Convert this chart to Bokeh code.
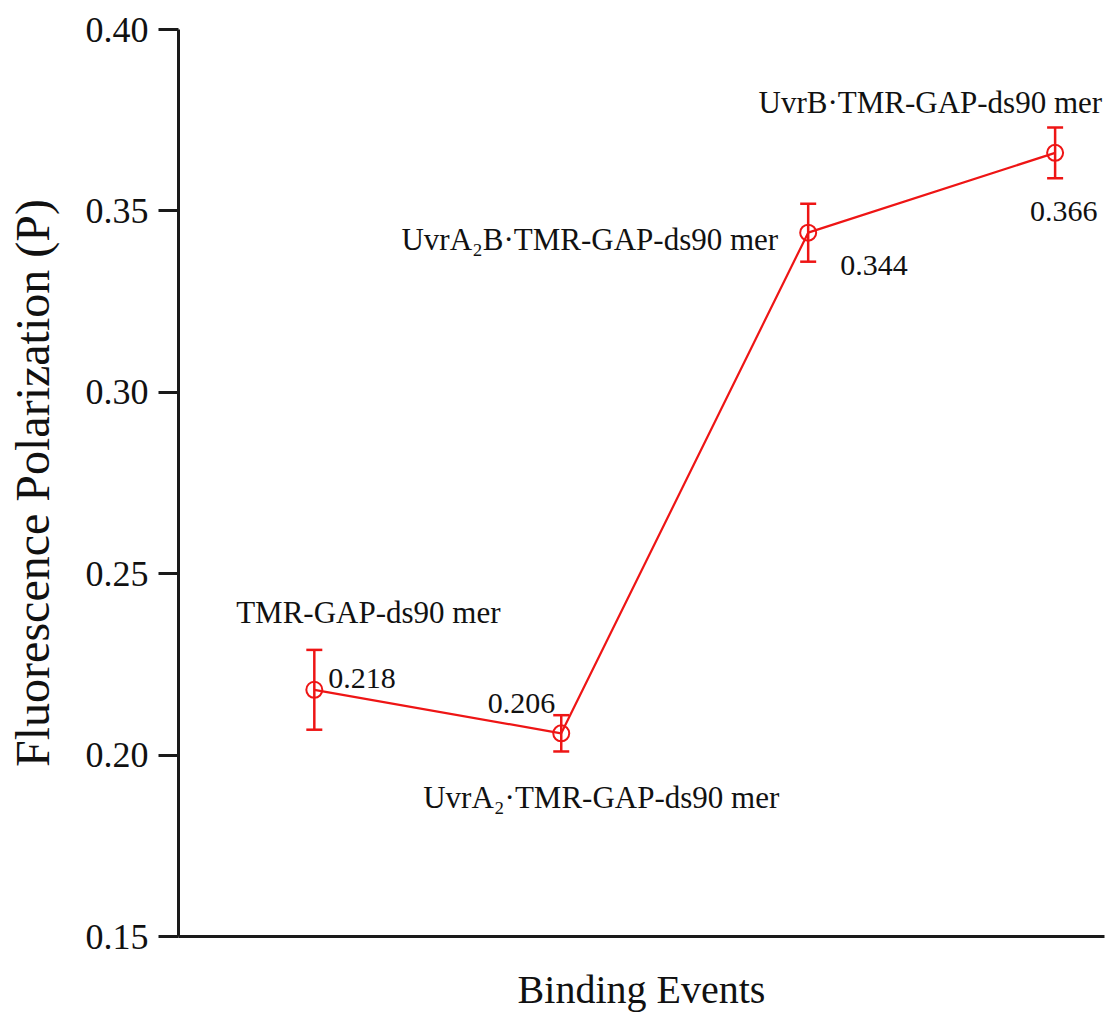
from bokeh.plotting import figure
from bokeh.models import ColumnDataSource, Whisker, TeeHead, FixedTicker, PrintfTickFormatter
from bokeh.core.properties import value
from bokeh.embed import file_html
from bokeh.resources import INLINE

# ---- data ----
events = ["TMR-GAP-ds90 mer", "UvrA\u2082\u00b7TMR-GAP-ds90 mer",
          "UvrA\u2082B\u00b7TMR-GAP-ds90 mer", "UvrB\u00b7TMR-GAP-ds90 mer"]
positions = [1, 2, 3, 4]
polarization = [0.218, 0.206, 0.344, 0.366]
errors = [0.011, 0.005, 0.008, 0.007]
value_labels = ["0.218", "0.206", "0.344", "0.366"]
y_ticks = [0.15, 0.20, 0.25, 0.30, 0.35, 0.40]

RED = "#ee1515"
FONT = "Liberation Serif"

src = ColumnDataSource(dict(
    x=positions, y=polarization,
    upper=[v + e for v, e in zip(polarization, errors)],
    lower=[v - e for v, e in zip(polarization, errors)],
    vlab=value_labels, ev=events,
    # label offsets / alignment (pixels)
    ev_dx=[54, 40, -30, 47], ev_dy=[-77, 64, 7, -50],
    ev_align=["center", "center", "right", "right"],
    v_dx=[14, -6, 32, -25], v_dy=[-11, -30, 33, 59],
    v_align=["left", "right", "left", "left"],
))

p = figure(width=1106, height=1014, x_range=(0.45, 4.2), y_range=(0.15, 0.40),
           output_backend="svg", toolbar_location=None,
           min_border_left=178, min_border_top=29, min_border_right=2, min_border_bottom=71)

p.xgrid.visible = False
p.ygrid.visible = False
p.outline_line_color = None
p.background_fill_color = "white"

# y axis
ya = p.yaxis[0]
ya.ticker = FixedTicker(ticks=y_ticks)
ya.formatter = PrintfTickFormatter(format="%.2f")
ya.axis_label = "Fluorescence Polarization (P)"
ya.axis_label_text_font = FONT
ya.axis_label_text_font_size = "48px"
ya.axis_label_text_font_style = "normal"
ya.axis_label_text_color = "#111111"
ya.axis_label_standoff = 24
ya.major_label_text_font = FONT
ya.major_label_text_font_size = "36px"
ya.major_label_text_font_style = "normal"
ya.major_label_text_color = "#111111"
ya.major_label_standoff = 10
ya.major_tick_out = 20
ya.major_tick_in = 0
ya.major_tick_line_width = 3
ya.major_tick_line_color = "#1a1a1a"
ya.minor_tick_line_color = None
ya.axis_line_width = 3
ya.axis_line_color = "#1a1a1a"

# x axis
xa = p.xaxis[0]
xa.ticker = FixedTicker(ticks=[])
xa.axis_label = "Binding Events"
xa.axis_label_text_font = FONT
xa.axis_label_text_font_size = "40px"
xa.axis_label_text_font_style = "normal"
xa.axis_label_text_color = "#111111"
xa.axis_label_standoff = 30
xa.major_tick_line_color = None
xa.minor_tick_line_color = None
xa.axis_line_width = 3
xa.axis_line_color = "#1a1a1a"

# line + markers
p.line("x", "y", source=src, line_color=RED, line_width=2.2)
p.scatter("x", "y", source=src, marker="circle", size=16, fill_color=None,
          line_color=RED, line_width=2)

# error bars
wh = Whisker(base="x", upper="upper", lower="lower", source=src,
             line_color=RED, line_width=2.5,
             upper_head=TeeHead(size=16, line_color=RED, line_width=2.5),
             lower_head=TeeHead(size=16, line_color=RED, line_width=2.5))
p.add_layout(wh)

# annotations
p.text("x", "y", text="ev", source=src, x_offset="ev_dx", y_offset="ev_dy",
       text_align="ev_align", text_baseline="alphabetic",
       text_font=value(FONT), text_font_size="31px", text_color="#111111")
p.text("x", "y", text="vlab", source=src, x_offset="v_dx", y_offset="v_dy",
       text_align="v_align", text_baseline="alphabetic",
       text_font=value(FONT), text_font_size="30px", text_color="#111111")

open("out.html", "w").write(file_html(p, INLINE))
